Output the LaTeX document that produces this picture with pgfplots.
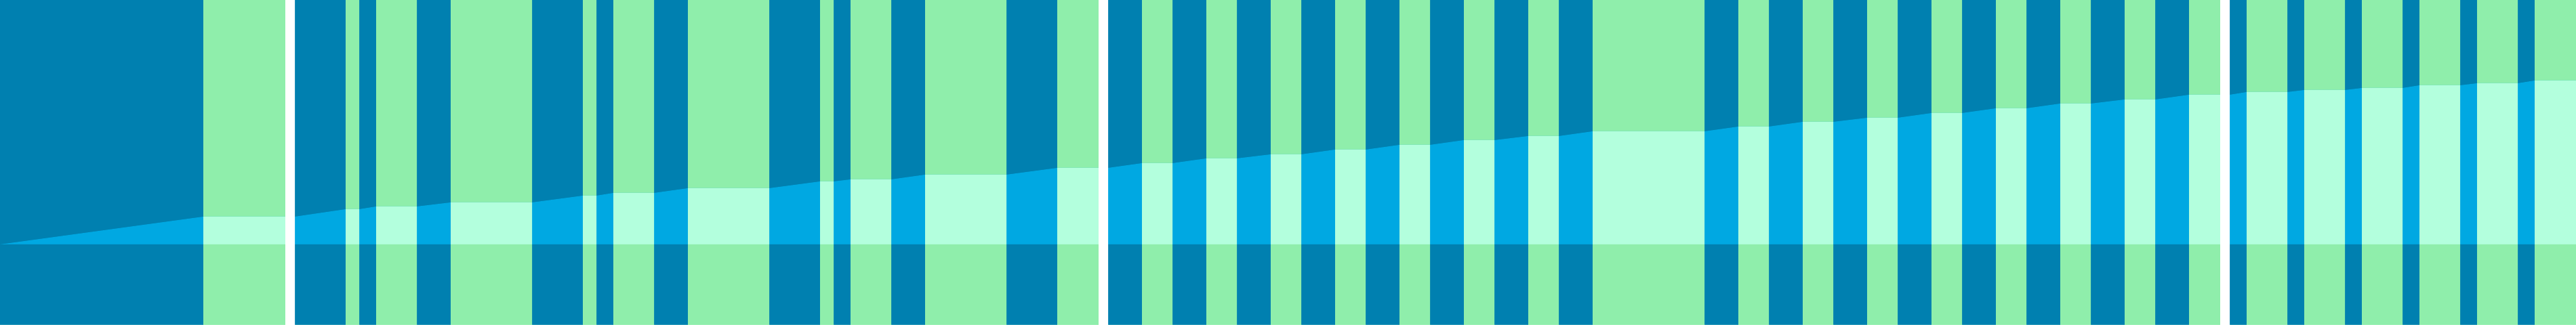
\documentclass[border=0pt]{standalone}
\usepackage{pgfplots}
\usepackage{pgfplotstable}
\pgfplotsset{compat=1.18}

\definecolor{stripeblue}{RGB}{0,128,176}
\definecolor{stripegreen}{RGB}{143,238,171}
\definecolor{areablue}{RGB}{0,168,226}
\definecolor{areamint}{RGB}{179,255,221}

% stripes: x = start of interval, full/bottom heights per kind, m = level of the flat step
\pgfplotstableread{
x    b   g   w   m   bl  gl
0    480 0   0   0   119 0
300  0   480 0   160 0   119
421  0   0   480 0   0   0
435  480 0   0   0   119 0
510  0   480 0   171 0   119
530  480 0   0   0   119 0
555  0   480 0   175 0   119
615  480 0   0   0   119 0
665  0   480 0   181 0   119
785  480 0   0   0   119 0
860  0   480 0   191 0   119
880  480 0   0   0   119 0
905  0   480 0   195 0   119
965  480 0   0   0   119 0
1015 0   480 0   202 0   119
1135 480 0   0   0   119 0
1210 0   480 0   212 0   119
1230 480 0   0   0   119 0
1255 0   480 0   215 0   119
1315 480 0   0   0   119 0
1365 0   480 0   222 0   119
1485 480 0   0   0   119 0
1560 0   480 0   232 0   119
1621 0   0   480 0   0   0
1635 480 0   0   0   119 0
1685 0   480 0   239 0   119
1730 480 0   0   0   119 0
1780 0   480 0   246 0   119
1825 480 0   0   0   119 0
1875 0   480 0   252 0   119
1920 480 0   0   0   119 0
1970 0   480 0   259 0   119
2015 480 0   0   0   119 0
2065 0   480 0   266 0   119
2110 480 0   0   0   119 0
2160 0   480 0   273 0   119
2205 480 0   0   0   119 0
2255 0   480 0   279 0   119
2300 480 0   0   0   119 0
2350 0   480 0   286 0   119
2515 480 0   0   0   119 0
2565 0   480 0   293 0   119
2610 480 0   0   0   119 0
2660 0   480 0   300 0   119
2705 480 0   0   0   119 0
2755 0   480 0   306 0   119
2800 480 0   0   0   119 0
2850 0   480 0   313 0   119
2895 480 0   0   0   119 0
2945 0   480 0   320 0   119
2990 480 0   0   0   119 0
3040 0   480 0   327 0   119
3085 480 0   0   0   119 0
3135 0   480 0   333 0   119
3180 480 0   0   0   119 0
3230 0   480 0   340 0   119
3276 0   0   480 0   0   0
3290 480 0   0   0   119 0
3315 0   480 0   344 0   119
3375 480 0   0   0   119 0
3400 0   480 0   347 0   119
3460 480 0   0   0   119 0
3485 0   480 0   350 0   119
3545 480 0   0   0   119 0
3570 0   480 0   354 0   119
3630 480 0   0   0   119 0
3655 0   480 0   357 0   119
3715 480 0   0   0   119 0
3740 0   480 0   361 0   119
3801 0   0   0   0   0   0
}\stripes

% cumulative line (baseline at 119)
\pgfplotstableread{
x    y
0    119
300  160
435  160
510  171
530  171
555  175
615  175
665  181
785  181
860  191
880  191
905  195
965  195
1015 202
1135 202
1210 212
1230 212
1255 215
1315 215
1365 222
1485 222
1560 232
1635 232
1685 239
1730 239
1780 246
1825 246
1875 252
1920 252
1970 259
2015 259
2065 266
2110 266
2160 273
2205 273
2255 279
2300 279
2350 286
2515 286
2565 293
2610 293
2660 300
2705 300
2755 306
2800 306
2850 313
2895 313
2945 320
2990 320
3040 327
3085 327
3135 333
3180 333
3230 340
3290 340
3315 344
3375 344
3400 347
3460 347
3485 350
3545 350
3570 354
3630 354
3655 357
3715 357
3740 361
3801 361
}\cumline

\begin{document}
\begin{tikzpicture}
\begin{axis}[
    scale only axis,
    width=38.01cm, height=4.8cm,
    xmin=0, xmax=3801, ymin=0, ymax=480,
    enlargelimits=false,
    hide axis,
    clip=true]

    % full-height stripes
    \addplot[ybar interval, fill=stripeblue, draw=none] table[x=x, y=b] {\stripes};
    \addplot[ybar interval, fill=stripegreen, draw=none] table[x=x, y=g] {\stripes};

    % area under the cumulative line
    \addplot[fill=areablue, draw=none] table[x=x, y=y] {\cumline} \closedcycle;
    \addplot[ybar interval, fill=areamint, draw=none] table[x=x, y=m] {\stripes};

    % band below the baseline
    \addplot[ybar interval, fill=stripeblue, draw=none] table[x=x, y=bl] {\stripes};
    \addplot[ybar interval, fill=stripegreen, draw=none] table[x=x, y=gl] {\stripes};

    % white separators
    \addplot[ybar interval, fill=white, draw=none] table[x=x, y=w] {\stripes};
\end{axis}
\end{tikzpicture}
\end{document}
